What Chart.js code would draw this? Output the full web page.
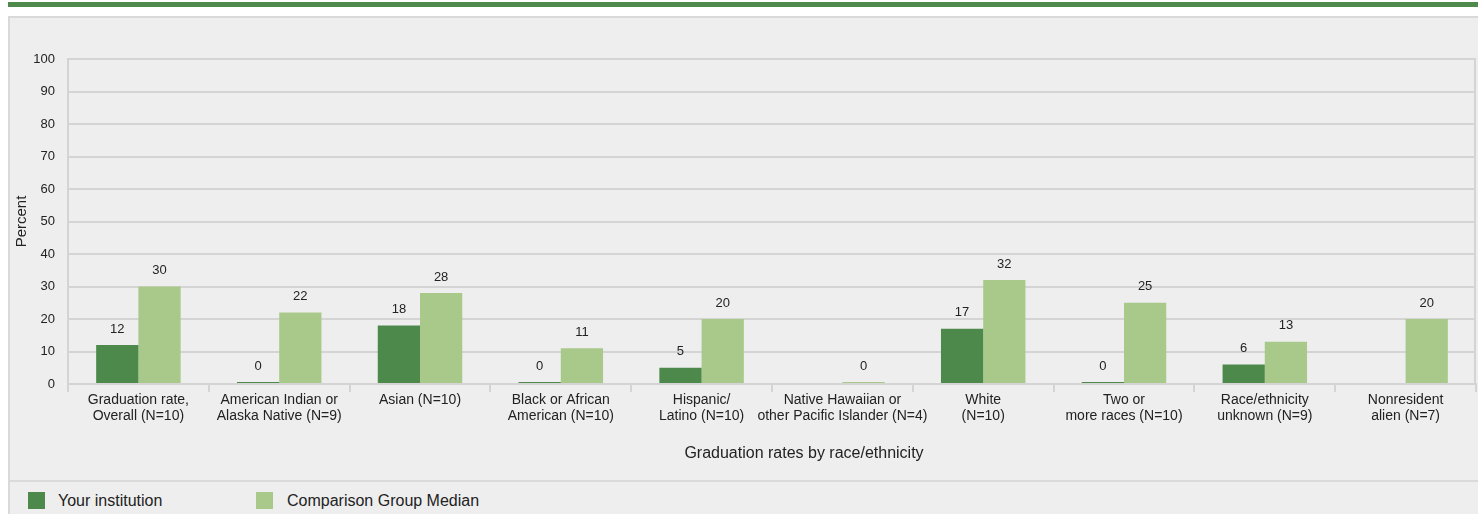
<!DOCTYPE html>
<html>
<head>
<meta charset="utf-8">
<script src="https://cdn.jsdelivr.net/npm/chart.js@4/dist/chart.umd.min.js"></script>
<style>
  html, body { margin: 0; padding: 0; background: #ffffff; width: 1478px; height: 514px; overflow: hidden; font-family: "Liberation Sans", Arial, sans-serif; }
  #topbar { position: absolute; left: 8px; top: 2px; width: 1470px; height: 5px; background: #4f8a4d; }
  #panel { position: absolute; left: 8px; top: 16px; width: 1470px; height: 498px; background: #eeeeee; border-top: 2px solid #d9d9d9; border-left: 2px solid #d9d9d9; box-sizing: border-box; }
  #chart { position: absolute; left: 10px; top: 18px; }
  #legend { position: absolute; left: 10px; top: 480px; width: 1468px; height: 34px; border-top: 2px solid #dadada; box-sizing: border-box; }
  .sw { position: absolute; top: 10px; width: 17px; height: 17px; }
  .lt { position: absolute; top: 9px; font-size: 16px; line-height: 19px; color: #222; white-space: nowrap; }
</style>
</head>
<body>
<div id="topbar"></div>
<div id="panel"></div>
<canvas id="chart" width="1468" height="462"></canvas>
<div id="legend">
  <div class="sw" style="left:18px;background:#4e894c"></div><div class="lt" id="l1" style="left:48px"></div>
  <div class="sw" style="left:246px;background:#a9c98a"></div><div class="lt" id="l2" style="left:277px"></div>
</div>
<script>
const categories = [
  ["Graduation rate,", "Overall (N=10)"],
  ["American Indian or", "Alaska Native (N=9)"],
  ["Asian (N=10)"],
  ["Black or African", "American (N=10)"],
  ["Hispanic/", "Latino (N=10)"],
  ["Native Hawaiian or", "other Pacific Islander (N=4)"],
  ["White", "(N=10)"],
  ["Two or", "more races (N=10)"],
  ["Race/ethnicity", "unknown (N=9)"],
  ["Nonresident", "alien (N=7)"]
];
const seriesNames = ["Your institution", "Comparison Group Median"];
const yourInstitution = [12, 0, 18, 0, 5, null, 17, 0, 6, null];
const comparisonMedian = [30, 22, 28, 11, 20, 0, 32, 25, 13, 20];
const yTicks = [0, 10, 20, 30, 40, 50, 60, 70, 80, 90, 100];
const yTitle = "Percent";
const xTitle = "Graduation rates by race/ethnicity";

document.getElementById('l1').textContent = seriesNames[0];
document.getElementById('l2').textContent = seriesNames[1];

const GRID = '#d4d4d4';
const FONT = '"Liberation Sans", Arial, sans-serif';

const extras = {
  id: 'extras',
  afterDatasetsDraw(chart) {
    const ctx = chart.ctx;
    ctx.save();
    ctx.font = '13px ' + FONT;
    ctx.fillStyle = '#222';
    ctx.textAlign = 'center';
    ctx.textBaseline = 'middle';
    chart.data.datasets.forEach((ds, di) => {
      const meta = chart.getDatasetMeta(di);
      meta.data.forEach((el, i) => {
        const v = ds.data[i];
        if (v === null || v === undefined) return;
        ctx.fillText(String(v), el.x, el.y - 16);
      });
    });
    ctx.restore();
  },
  afterDraw(chart) {
    const ctx = chart.ctx;
    const a = chart.chartArea;
    ctx.save();
    ctx.strokeStyle = GRID;
    ctx.lineWidth = 2;
    ctx.beginPath();
    ctx.moveTo(Math.round(a.right) - 1, a.top - 1);
    ctx.lineTo(Math.round(a.right) - 1, a.bottom);
    ctx.stroke();
    ctx.font = '16px ' + FONT;
    ctx.fillStyle = '#222';
    ctx.textAlign = 'center';
    ctx.textBaseline = 'middle';
    ctx.fillText(xTitle, (a.left + a.right) / 2 + 32, a.bottom + 70);
    ctx.restore();
  }
};

new Chart(document.getElementById('chart'), {
  type: 'bar',
  data: {
    labels: categories,
    datasets: [
      { label: seriesNames[0], data: yourInstitution, backgroundColor: '#4e894c', minBarLength: 2 },
      { label: seriesNames[1], data: comparisonMedian, backgroundColor: '#a9c98a', minBarLength: 2 }
    ]
  },
  options: {
    responsive: false,
    maintainAspectRatio: false,
    animation: false,
    devicePixelRatio: 1,
    layout: { padding: { top: 41, right: 2, left: 0, bottom: 0 } },
    datasets: { bar: { categoryPercentage: 0.6, barPercentage: 1.0 } },
    plugins: { legend: { display: false }, tooltip: { enabled: false } },
    scales: {
      x: {
        grid: { display: true, drawOnChartArea: false, drawTicks: true, tickLength: 8, color: GRID, lineWidth: 2, offset: true },
        border: { display: true, color: GRID, width: 2 },
        ticks: { autoSkip: false, maxRotation: 0, minRotation: 0, padding: 0, color: '#222', font: { family: FONT, size: 14, lineHeight: 1.15 } },
        afterFit(scale) { scale.height = 96; }
      },
      y: {
        min: 0, max: 100,
        afterBuildTicks(scale) { scale.ticks = yTicks.map(v => ({ value: v })); },
        grid: { color: GRID, lineWidth: 2, drawTicks: false },
        border: { display: true, color: GRID, width: 2 },
        ticks: { padding: 13, color: '#222', font: { family: FONT, size: 13 } },
        title: { display: true, text: yTitle, color: '#222', font: { family: FONT, size: 15 }, padding: { top: 3, bottom: 0 } },
        afterFit(scale) { scale.width = 58; }
      }
    }
  },
  plugins: [extras]
});
</script>
</body>
</html>
